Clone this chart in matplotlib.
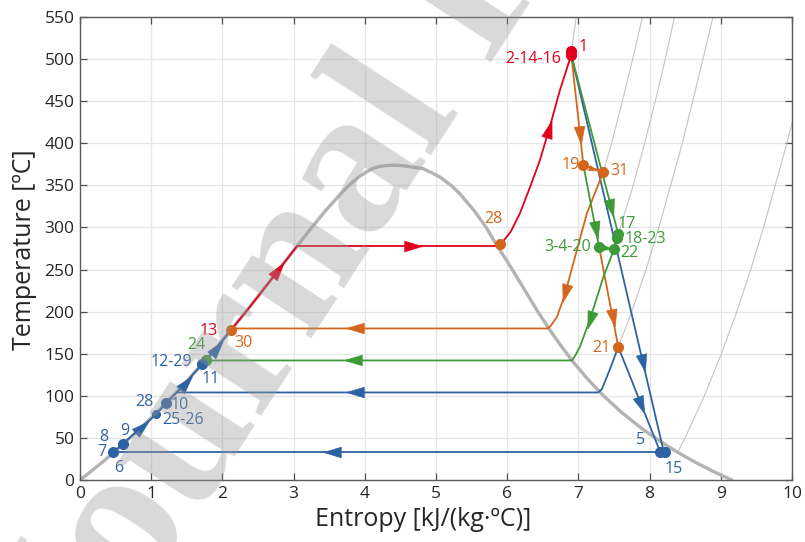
import numpy as np
import matplotlib
matplotlib.use("Agg")
import matplotlib.pyplot as plt
from matplotlib.markers import MarkerStyle
from matplotlib.transforms import Affine2D

plt.rcParams['font.family'] = ['Open Sans', 'DejaVu Sans']

# ---------------- data ----------------
# saturation dome (entropy kJ/(kg K), temperature C)
dome_T_liq = [0, 10, 20, 30, 40, 50, 60, 80, 100, 120, 140, 160, 180, 200, 220, 240,
              260, 280, 300, 320, 340, 350, 360, 365, 370, 372, 373, 373.7, 373.95]
dome_s_liq = [0, 0.151, 0.297, 0.437, 0.572, 0.704, 0.831, 1.075, 1.307, 1.527, 1.739,
              1.943, 2.139, 2.331, 2.518, 2.702, 2.884, 3.068, 3.255, 3.449, 3.661,
              3.778, 3.917, 4.004, 4.111, 4.18, 4.25, 4.33, 4.41]
dome_T_vap = [373.7, 373, 372, 370, 365, 360, 350, 340, 320, 300, 280, 260, 240, 220,
              200, 180, 160, 140, 120, 100, 80, 60, 40, 30, 20, 10, 0]
dome_s_vap = [4.49, 4.57, 4.64, 4.814, 4.938, 5.053, 5.211, 5.335, 5.536, 5.705, 5.845,
              5.998, 6.143, 6.286, 6.430, 6.585, 6.750, 6.929, 7.129, 7.354, 7.611,
              7.908, 8.256, 8.452, 8.666, 8.899, 9.155]

# thin grey isobars
iso1_s = [8.394, 8.498, 8.769, 9.008, 9.224, 9.42, 9.601, 9.928, 10.08]
iso1_T = [32.9, 50, 100, 150, 200, 250, 300, 400, 450]
iso2_s = [7.56, 7.75, 7.95, 8.13, 8.46, 8.75, 8.89, 8.92]
iso2_T = [158, 200, 250, 300, 400, 500, 550, 560]
iso3_s = [7.50, 7.59, 7.77, 7.93, 8.08, 8.22, 8.35, 8.38]
iso3_T = [274, 300, 350, 400, 450, 500, 550, 560]
iso4_s = [7.35, 7.465, 7.618, 7.762, 7.90, 7.93]
iso4_T = [366, 400, 450, 500, 550, 560]
iso5_s = [6.90, 6.97, 6.985]
iso5_T = [508, 550, 560]

# blue cycle
blue_liq_s = [0.47, 0.60, 1.07, 1.21, 1.36, 1.72, 1.77, 2.11]
blue_liq_T = [33, 43, 78, 92, 104, 138, 142, 177]
blue_exp1_s = [6.90, 8.20]
blue_exp1_T = [505, 33]
blue_exp2_s = [7.56, 8.15]
blue_exp2_T = [158, 33]
blue_ext_s = [7.56, 7.44, 7.33, 7.28, 1.36]
blue_ext_T = [158, 131, 108, 104, 104]
blue_cond_s = [8.18, 0.47]
blue_cond_T = [33, 33]

# red cycle
red_liq_s = [2.11, 2.331, 2.518, 2.702, 2.884, 3.05, 5.90]
red_liq_T = [177, 200, 220, 240, 260, 278, 278]
red_sh_s = [5.90, 6.05, 6.18, 6.33, 6.46, 6.60, 6.74, 6.90]
red_sh_T = [279, 295, 317, 350, 380, 420, 463, 505]

# orange cycle
orange_a_s = [6.90, 7.07]
orange_a_T = [505, 374]
orange_b_s = [7.07, 7.35]
orange_b_T = [374, 366]
orange_c_s = [7.35, 7.12, 6.93, 6.81, 6.70, 6.61, 6.57, 2.13]
orange_c_T = [366, 317, 258, 220, 194, 183, 180, 180]
orange_d_s = [7.29, 7.56]
orange_d_T = [277, 158]

# green cycle
green_a_s = [6.90, 7.56, 7.54, 7.50]
green_a_T = [505, 292, 286, 274]
green_b_s = [7.07, 7.29]
green_b_T = [374, 277]
green_c_s = [7.29, 7.50]
green_c_T = [277, 274]
green_d_s = [7.50, 7.35, 7.16, 7.02, 6.95, 6.91, 1.77]
green_d_T = [274, 241, 190, 158, 147, 142, 142]

# state points
red_pts_s = [6.90, 6.90]
red_pts_T = [510, 505]
orange_pts_s = [5.90, 7.07, 7.35, 7.56, 2.12]
orange_pts_T = [280, 374, 366, 158, 178]
green_pts_s = [7.56, 7.54, 7.29, 7.50, 1.77]
green_pts_T = [292, 287, 277, 274, 142]
blue_pts_s = [8.15, 8.21, 0.47, 0.60, 1.21, 1.72]
blue_pts_T = [33, 33, 33, 43, 92, 138]
small_pts_s = [1.07]
small_pts_T = [78]

# point labels: text, s, T, colour key
point_labels = [
    ('1', 7.065, 514, 'r'), ('2-14-16', 6.36, 500, 'r'), ('28', 5.81, 310, 'o'),
    ('19', 6.89, 374, 'o'), ('31', 7.58, 367, 'o'), ('17', 7.68, 304, 'g'),
    ('18-23', 7.94, 286, 'g'), ('3-4-20', 6.85, 277, 'g'), ('22', 7.72, 270, 'g'),
    ('21', 7.32, 157, 'o'), ('5', 7.88, 47.5, 'b'), ('15', 8.34, 13, 'b'),
    ('13', 1.81, 177, 'r'), ('30', 2.29, 163, 'o'), ('24', 1.63, 160, 'g'),
    ('12-29', 1.28, 140, 'b'), ('11', 1.83, 120, 'b'), ('28', 0.90, 92.6, 'b'),
    ('10', 1.40, 89, 'b'), ('25-26', 1.45, 71, 'b'), ('8', 0.34, 51, 'b'),
    ('9', 0.63, 58, 'b'), ('7', 0.31, 33, 'b'), ('6', 0.55, 14, 'b'),
]

# arrow heads: path key, approx s, T, size
arrows = [
    ('blue_liq', 0.89, 62, 12), ('blue_liq', 1.52, 113, 12), ('blue_liq', 1.92, 157, 12),
    ('red_liq', 2.83, 246, 12), ('red_liq', 4.68, 278, 12), ('red_sh', 6.57, 418, 12),
    ('blue_exp1', 7.90, 139, 12), ('blue_exp2', 7.87, 89, 12),
    ('blue_ext', 3.86, 104, 12), ('blue_cond', 3.54, 33, 12),
    ('orange_a', 7.02, 410, 12), ('orange_b', 7.21, 370, 6),
    ('orange_c', 6.81, 222, 12), ('orange_c', 3.86, 180, 12), ('orange_d', 7.47, 192, 12),
    ('green_a', 7.45, 323, 12), ('green_b', 7.24, 297, 12), ('green_c', 7.40, 275.5, 6),
    ('green_d', 7.16, 190, 12), ('green_d', 3.84, 142, 12),
]

x_ticks = list(range(0, 11))
y_ticks = list(range(0, 551, 50))

# ---------------- styling ----------------
C = {'b': '#2e63a3', 'r': '#e1001c', 'o': '#d4661c', 'g': '#3e9a37'}
paths = {
    'blue_liq': (blue_liq_s, blue_liq_T, 'b'), 'blue_exp1': (blue_exp1_s, blue_exp1_T, 'b'),
    'blue_exp2': (blue_exp2_s, blue_exp2_T, 'b'), 'blue_ext': (blue_ext_s, blue_ext_T, 'b'),
    'blue_cond': (blue_cond_s, blue_cond_T, 'b'),
    'red_liq': (red_liq_s, red_liq_T, 'r'), 'red_sh': (red_sh_s, red_sh_T, 'r'),
    'orange_a': (orange_a_s, orange_a_T, 'o'), 'orange_b': (orange_b_s, orange_b_T, 'o'),
    'orange_c': (orange_c_s, orange_c_T, 'o'), 'orange_d': (orange_d_s, orange_d_T, 'o'),
    'green_a': (green_a_s, green_a_T, 'g'), 'green_b': (green_b_s, green_b_T, 'g'),
    'green_c': (green_c_s, green_c_T, 'g'), 'green_d': (green_d_s, green_d_T, 'g'),
}

fig = plt.figure(figsize=(8.05, 5.42), dpi=100)
ax = fig.add_axes([80 / 805, 62 / 542, 712 / 805, 463 / 542])
ax.set_xlim(0, 10)
ax.set_ylim(0, 550)
ax.set_xticks(x_ticks)
ax.set_yticks(y_ticks)
ax.grid(True, color='#e6e6e6', lw=0.9, zorder=0)
ax.set_axisbelow(True)
ax.tick_params(direction='in', top=True, right=True, length=5, width=0.9,
               colors='#4d4d4d', labelcolor='#262626', labelsize=12.5, pad=4)
for sp in ax.spines.values():
    sp.set_color('#5a5a5a')
    sp.set_linewidth(1.0)
ax.set_xlabel('Entropy [kJ/(kg·ºC)]', fontsize=18, color='#262626')
ax.set_ylabel('Temperature [ºC]', fontsize=18, color='#262626')
ax.xaxis.set_label_coords((423 - 80) / 712, -(507 - 480) / 463)
ax.yaxis.set_label_coords((37 - 80) / 712, (480 - 250) / 463)

# isobars
for s_, T_ in [(iso1_s, iso1_T), (iso2_s, iso2_T), (iso3_s, iso3_T), (iso4_s, iso4_T), (iso5_s, iso5_T)]:
    ax.plot(s_, T_, color='#c4c4c4', lw=0.8, zorder=1)

# dome
ax.plot(dome_s_liq + dome_s_vap, dome_T_liq + dome_T_vap, color='#b3b3b3', lw=2.4,
        zorder=2, solid_capstyle='round', solid_joinstyle='round')

# cycle lines
for key, (s_, T_, c) in paths.items():
    ax.plot(s_, T_, color=C[c], lw=1.3, zorder=3, solid_joinstyle='round')

# arrow heads
tri = np.array([[1.0, 0.0], [-1.0, 0.6], [-1.0, -0.6], [1.0, 0.0]])
for key, sa, Ta, size in arrows:
    s_, T_, c = paths[key]
    pts = ax.transData.transform(np.column_stack([s_, T_]))
    q = ax.transData.transform((sa, Ta))
    best = None
    for i in range(len(pts) - 1):
        a, b = pts[i], pts[i + 1]
        d = b - a
        L2 = d @ d
        if L2 == 0:
            continue
        t = np.clip((q - a) @ d / L2, 0, 1)
        p = a + t * d
        dist = np.hypot(*(q - p))
        if best is None or dist < best[0]:
            best = (dist, p, np.degrees(np.arctan2(d[1], d[0])))
    _, p, ang = best
    pd = ax.transData.inverted().transform(p)
    ms = MarkerStyle(tri, transform=Affine2D().rotate_deg(ang))
    ax.plot(pd[0], pd[1], marker=ms, ms=size * 1.05, color=C[c], mec=C[c], mew=0.5,
            zorder=4, linestyle='none')

# state points
ax.plot(red_pts_s, red_pts_T, 'o', color=C['r'], ms=7, zorder=5)
ax.plot(orange_pts_s, orange_pts_T, 'o', color=C['o'], ms=7, zorder=5)
ax.plot(green_pts_s, green_pts_T, 'o', color=C['g'], ms=7, zorder=5)
ax.plot(blue_pts_s, blue_pts_T, 'o', color=C['b'], ms=7, zorder=5)
ax.plot(small_pts_s, small_pts_T, 'o', color=C['b'], ms=5.5, zorder=5)

for txt, s0, T0, c in point_labels:
    ax.text(s0, T0, txt, color=C[c], fontsize=11.5, ha='center', va='center', zorder=6)

# watermark
fig.text(82 / 805, -150 / 542, 'Journal Pre-proof', rotation=57, rotation_mode='anchor',
         ha='left', va='baseline', fontsize=150, family='Liberation Serif',
         weight='bold', color='#9a9a9a', alpha=0.38, zorder=100)

fig.savefig('out.png', dpi=100)
